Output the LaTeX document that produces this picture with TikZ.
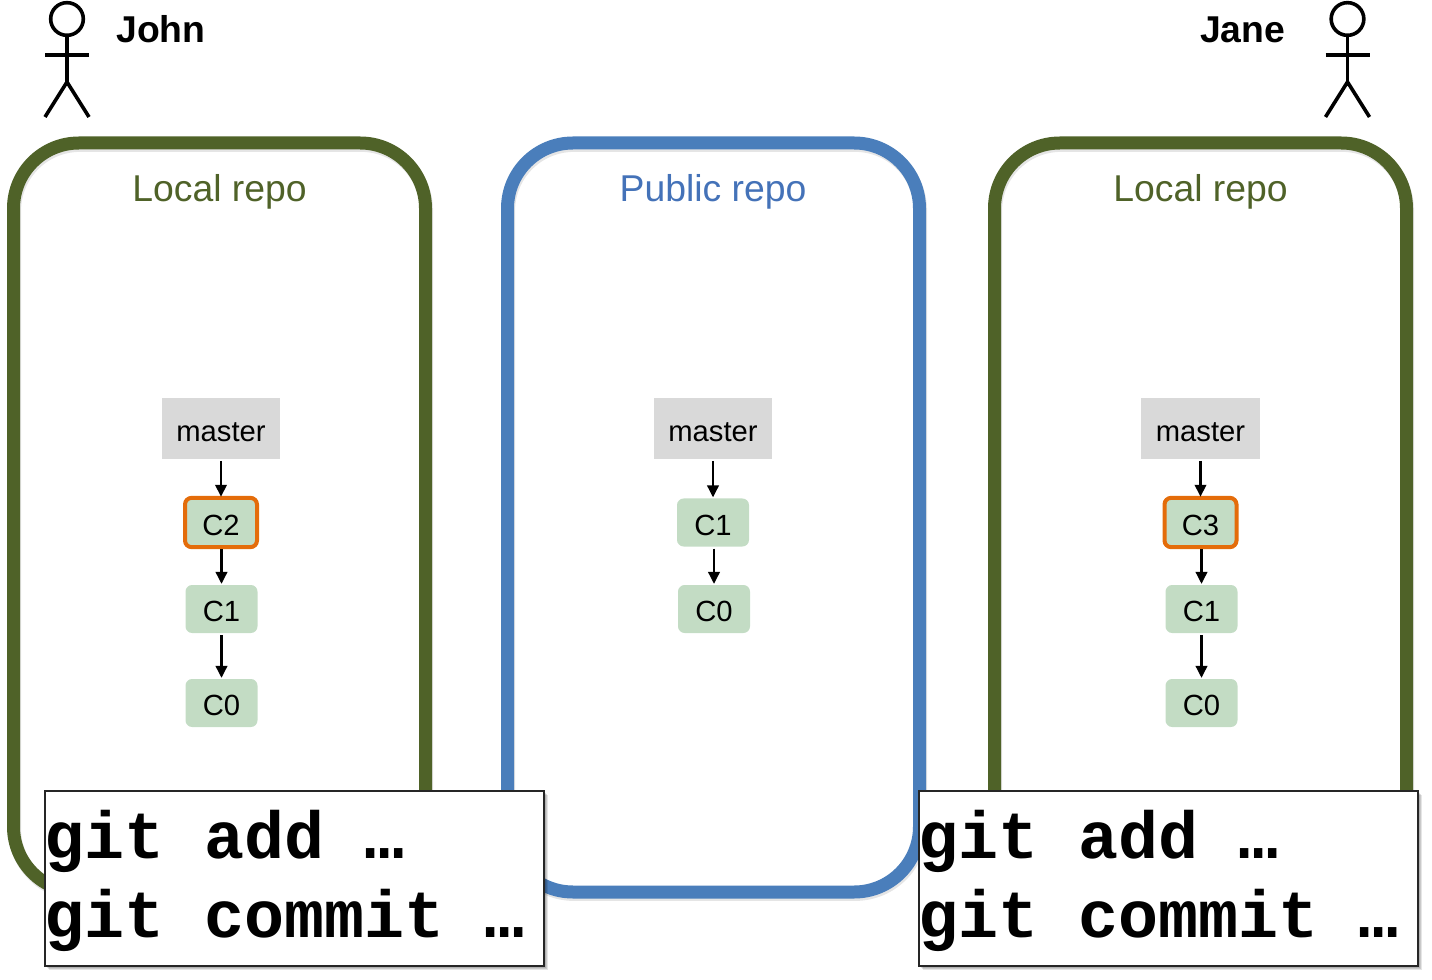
\documentclass[tikz,border=0pt]{standalone}
\usepackage{fontspec}
\setmainfont{Liberation Sans}
\setmonofont{Liberation Mono}
\usetikzlibrary{arrows.meta,shadows}
\definecolor{olive}{HTML}{4F6228}
\definecolor{pubblue}{HTML}{4A7EBB}
\definecolor{pubtext}{HTML}{4472B8}
\definecolor{commit}{HTML}{C3DCC4}
\definecolor{branch}{HTML}{D9D9D9}
\definecolor{hilite}{HTML}{E46C0A}
\tikzset{
  x=0.75pt,y=-0.75pt,
  repo/.style={draw=#1,line width=9.75pt,rounded corners=49pt,minimum width=309pt,minimum height=561.75pt,inner sep=0pt,outer sep=0pt,
    general shadow={draw=black,draw opacity=0.10,shadow xshift=0.8pt,shadow yshift=-1.8pt}},
  lbl/.style={font=\fontsize{28}{33}\selectfont,inner sep=0pt},
  branchbox/.style={fill=branch,minimum width=88.9pt,minimum height=45.75pt,inner sep=0pt,outer sep=0pt,font=\fontsize{21.9}{26}\selectfont,text height=19.5pt,text depth=0pt},
  commitbox/.style={fill=commit,rounded corners=5pt,minimum width=54pt,minimum height=36pt,inner sep=0pt,outer sep=0pt,font=\fontsize{21.9}{26}\selectfont,text height=18.8pt,text depth=0pt},
  newcommit/.style={commitbox,draw=hilite,line width=3pt,minimum height=37pt},
  link/.style={line width=2pt,-{Triangle[length=9pt,width=8.5pt]},shorten <=1.5pt,shorten >=0.8pt},
  cmdbox/.style={draw=black!85,line width=1.5pt,fill=white,minimum width=374pt,minimum height=131pt,inner sep=0pt,outer sep=0pt,
    general shadow={fill=black,opacity=0.12,shadow xshift=1.5pt,shadow yshift=-1.5pt},
    general shadow={fill=black,opacity=0.12,shadow xshift=2.3pt,shadow yshift=-2.3pt},
    general shadow={fill=black,opacity=0.10,shadow xshift=3.2pt,shadow yshift=-3.2pt}},
  cmdtext/.style={font=\fontsize{50}{59.25}\selectfont\ttfamily\bfseries,align=left,inner sep=0pt},
  stick/.style={line width=2.7pt},
  actor/.style={font=\fontsize{28}{33}\selectfont\bfseries,inner sep=0pt},
}
\begin{document}
\begin{tikzpicture}
\useasboundingbox (0,0) rectangle (1432,980);
% repos
\node[repo=olive] (johnrepo) at (219.5,517.5) {};
\node[repo=pubblue] (pubrepo) at (713.5,517.5) {};
\node[repo=olive] (janerepo) at (1200.5,517.5) {};
\node[lbl,text=olive] (johnlabel) at (219.5,192) {Local repo};
\node[lbl,text=pubtext] (publabel) at (713,192) {Public repo};
\node[lbl,text=olive] (janelabel) at (1200.5,192) {Local repo};
% John graph
\node[branchbox] (jm) at (221,428.5) {master};
\node[newcommit] (j2) at (221,522.5) {C2};
\node[commitbox] (j1) at (221.5,609) {C1};
\node[commitbox] (j0) at (221.5,703) {C0};
\draw[link] (jm.south) -- (j2.north);
\draw[link] (j2.south -| j1.north) -- (j1.north);
\draw[link] (j1.south) -- (j0.north);
% Public graph
\node[branchbox] (pm) at (713,428.5) {master};
\node[commitbox] (p1) at (713,522.5) {C1};
\node[commitbox] (p0) at (714,609) {C0};
\draw[link] (pm.south) -- (p1.north);
\draw[link] (p1.south -| p0.north) -- (p0.north);
% Jane graph
\node[branchbox] (am) at (1200.5,428.5) {master};
\node[newcommit] (a3) at (1200.5,522.5) {C3};
\node[commitbox] (a1) at (1201.5,609) {C1};
\node[commitbox] (a0) at (1201.5,703) {C0};
\draw[link] (am.south) -- (a3.north);
\draw[link] (a3.south -| a1.north) -- (a1.north);
\draw[link] (a1.south) -- (a0.north);
% command boxes
\node[cmdbox] (jbox) at (294.5,878.5) {};
\node[cmdtext,anchor=west] (jcmd) at (44,880.5) {git add …\\git commit …};
\node[cmdbox] (abox) at (1168.5,878.5) {};
\node[cmdtext,anchor=west] (acmd) at (918,880.5) {git add …\\git commit …};
% actors
\node[draw,stick,circle,minimum size=24.5pt,inner sep=0pt,outer sep=0pt] (jhead) at (67,19) {};
\coordinate (jhip) at (67,82);
\coordinate (jarml) at (45,55);
\coordinate (jarmr) at (89,55);
\coordinate (jfootl) at (45,117);
\coordinate (jfootr) at (89,117);
\draw[stick] (jhead.south) -- (jhip);
\draw[stick] (jarml) -- (jarmr);
\draw[stick] (jfootl) -- (jhip) -- (jfootr);
\node[actor,anchor=west] (john) at (116,29) {John};
\node[draw,stick,circle,minimum size=24.5pt,inner sep=0pt,outer sep=0pt] (ahead) at (1347.5,19) {};
\coordinate (ahip) at (1347.5,82);
\coordinate (aarml) at (1325.5,55);
\coordinate (aarmr) at (1369.5,55);
\coordinate (afootl) at (1325.5,117);
\coordinate (afootr) at (1369.5,117);
\draw[stick] (ahead.south) -- (ahip);
\draw[stick] (aarml) -- (aarmr);
\draw[stick] (afootl) -- (ahip) -- (afootr);
\node[actor,anchor=east] (jane) at (1285.5,30) {Jane};
\end{tikzpicture}
\end{document}
